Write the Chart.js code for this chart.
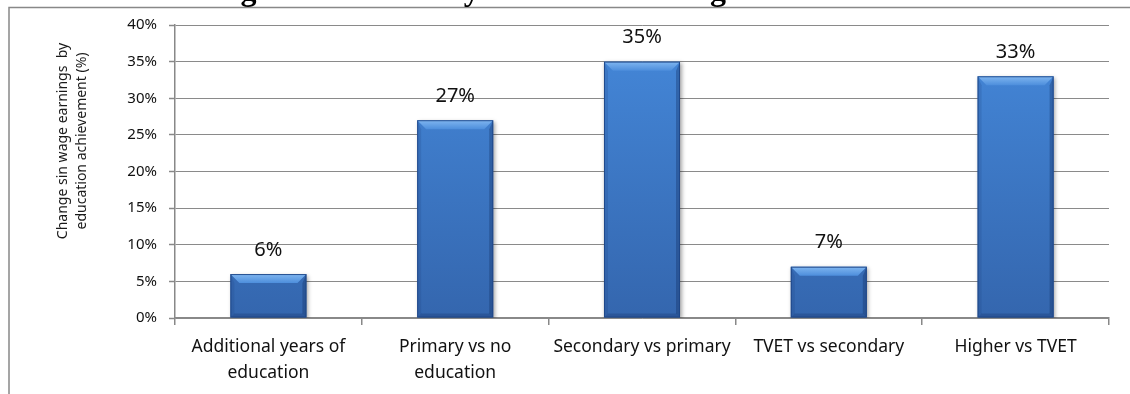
<!DOCTYPE html>
<html><head><meta charset="utf-8">
<script src="https://cdn.jsdelivr.net/npm/chart.js@4/dist/chart.umd.min.js"></script>
<style>html,body{margin:0;padding:0;background:#fff;overflow:hidden}#wrap{position:relative;width:1130px;height:394px}</style>
</head><body><div id="wrap"><canvas id="c" width="1130" height="394"></canvas></div>
<script>
const categories = [["Additional years of","education"],["Primary vs no","education"],"Secondary vs primary","TVET vs secondary","Higher vs TVET"];
const values = [6, 27, 35, 7, 33];
const yTicks = [0, 5, 10, 15, 20, 25, 30, 35, 40];
const yAxisTitle = ["Change sin wage earnings  by", "education achievement (%)"];
const chartTitle = "Figure 8: Summary of Mincerian Regression Results";

const FONT = "'Noto Sans', 'Open Sans', sans-serif";

const framePlugin = {
  id: 'frame',
  beforeDraw(chart) {
    const ctx = chart.ctx;
    ctx.save();
    ctx.fillStyle = '#fff';
    ctx.fillRect(0, 0, chart.width, chart.height);
    ctx.strokeStyle = '#888888';
    ctx.lineWidth = 1.5;
    ctx.beginPath();
    ctx.moveTo(9, chart.height);
    ctx.lineTo(9, 7.5);
    ctx.lineTo(chart.width, 7.5);
    ctx.stroke();
    ctx.fillStyle = '#000';
    ctx.font = "bold 32px 'Liberation Serif', serif";
    ctx.textAlign = 'left';
    ctx.textBaseline = 'alphabetic';
    ctx.fillText(chartTitle, 212, 0);
    ctx.restore();
  },
  afterDraw(chart) {
    const ctx = chart.ctx;
    ctx.save();
    ctx.fillStyle = '#1a1a1a';
    ctx.font = "14px " + FONT;
    ctx.textAlign = 'center';
    ctx.textBaseline = 'middle';
    ctx.translate(63, 141);
    ctx.rotate(-Math.PI / 2);
    yAxisTitle.forEach((t, i) => ctx.fillText(t, 0, i * 19));
    ctx.restore();
  }
};

const barFx = {
  id: 'barFx',
  beforeDatasetsDraw(chart) {
    const ctx = chart.ctx;
    ctx.save();
    ctx.shadowColor = 'rgba(0,0,0,0.35)';
    ctx.shadowBlur = 4;
    ctx.shadowOffsetX = 1.5;
    ctx.shadowOffsetY = 1.5;
  },
  afterDatasetsDraw(chart) {
    const ctx = chart.ctx;
    ctx.restore();
    ctx.save();
    const meta = chart.getDatasetMeta(0);
    meta.data.forEach((bar, i) => {
      const w = bar.width, l = bar.x - w / 2, r = bar.x + w / 2, t = bar.y, b = bar.base;
      const bv = Math.min(9, (b - t) / 2);
      const sv = 4;
      let g = ctx.createLinearGradient(0, t, 0, t + bv);
      g.addColorStop(0, '#80b6f0');
      g.addColorStop(1, '#4d8edc');
      ctx.fillStyle = g;
      ctx.beginPath();
      ctx.moveTo(l, t); ctx.lineTo(r, t); ctx.lineTo(r - bv, t + bv); ctx.lineTo(l + bv, t + bv); ctx.closePath();
      ctx.fill();
      ctx.fillStyle = 'rgba(25,60,120,0.18)';
      ctx.beginPath();
      ctx.moveTo(l, t); ctx.lineTo(l + sv, t + bv); ctx.lineTo(l + sv, b - sv); ctx.lineTo(l, b); ctx.closePath();
      ctx.fill();
      ctx.fillStyle = 'rgba(15,40,90,0.32)';
      ctx.beginPath();
      ctx.moveTo(r, t); ctx.lineTo(r - sv, t + bv); ctx.lineTo(r - sv, b - sv); ctx.lineTo(r, b); ctx.closePath();
      ctx.fill();
      ctx.fillStyle = 'rgba(15,40,90,0.25)';
      ctx.beginPath();
      ctx.moveTo(l, b); ctx.lineTo(l + sv, b - sv); ctx.lineTo(r - sv, b - sv); ctx.lineTo(r, b); ctx.closePath();
      ctx.fill();
      ctx.strokeStyle = 'rgba(30,70,135,0.9)';
      ctx.lineWidth = 1;
      ctx.strokeRect(l + 0.5, t + 0.5, w - 1, b - t - 1);
      ctx.fillStyle = '#111';
      ctx.font = "20px " + FONT;
      ctx.textAlign = 'center';
      ctx.textBaseline = 'alphabetic';
      ctx.fillText(values[i] + '%', bar.x, t - 18.5);
    });
    ctx.restore();
  }
};

new Chart(document.getElementById('c'), {
  type: 'bar',
  data: {
    labels: categories,
    datasets: [{
      data: values,
      backgroundColor: (c) => {
        const ca = c.chart.chartArea;
        if (!ca) return '#3d7bd0';
        const g = c.chart.ctx.createLinearGradient(0, ca.top, 0, ca.bottom);
        g.addColorStop(0, '#4589db');
        g.addColorStop(1, '#3466ae');
        return g;
      },
      borderWidth: 0,
      barPercentage: 0.407,
      categoryPercentage: 1.0
    }]
  },
  options: {
    responsive: false,
    animation: false,
    devicePixelRatio: 1,
    layout: { padding: { top: 25, right: 21, left: 0, bottom: 0 } },
    plugins: { legend: { display: false }, tooltip: { enabled: false }, title: { display: false } },
    scales: {
      x: {
        offset: true,
        afterFit: (s) => { s.height = 76; },
        grid: { offset: true, drawOnChartArea: false, drawTicks: true, tickLength: 7, color: '#888888', lineWidth: 1.5 },
        border: { display: true, color: '#888888', width: 1.5 },
        ticks: { color: '#111', font: { family: FONT, size: 17.5, lineHeight: 26 / 17.5 }, padding: 9, maxRotation: 0, autoSkip: false }
      },
      y: {
        min: 0, max: 40,
        afterFit: (s) => { s.width = 175; },
        afterBuildTicks: (s) => { s.ticks = yTicks.map(v => ({ value: v })); },
        grid: { color: '#8a8a8a', lineWidth: 1, borderDash: [1, 2], tickLength: 6, tickColor: '#888888', tickBorderDash: [], tickWidth: 1.5 },
        border: { display: true, color: '#888888', width: 1.5 },
        ticks: { color: '#111', font: { family: FONT, size: 15 }, padding: 12, callback: (v) => v + '%' }
      }
    }
  },
  plugins: [framePlugin, barFx]
});
</script></body></html>
